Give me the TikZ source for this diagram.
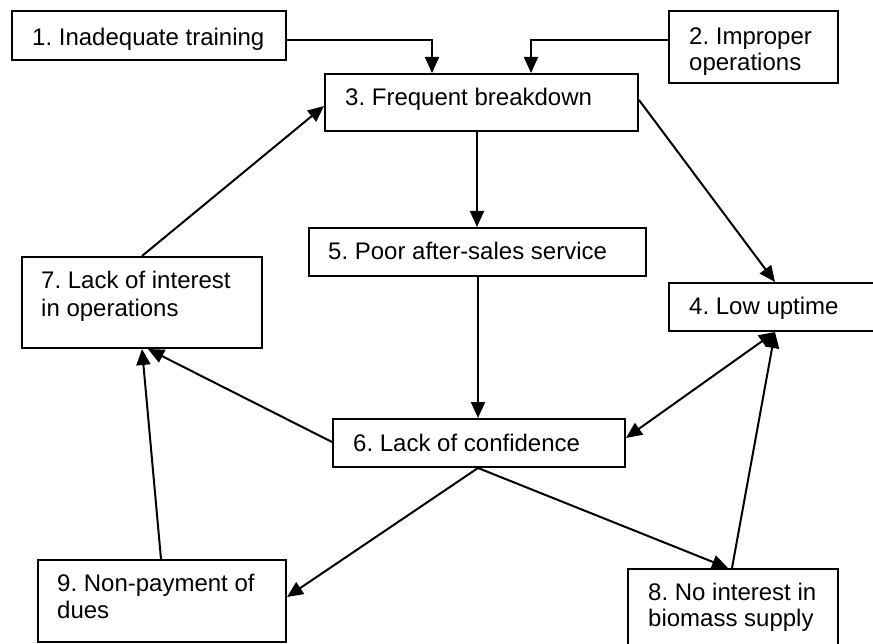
\documentclass[tikz,border=0pt]{standalone}
\usepackage{fontspec}
\setmainfont{Liberation Sans}
\usetikzlibrary{arrows.meta}
\frenchspacing
\begin{document}
\begin{tikzpicture}[x=1pt,y=-1pt,
  box/.style={draw=black, line width=2pt, fill=white, rectangle, inner sep=0pt, anchor=north west},
  txt/.style={anchor=base west, inner sep=0pt, font=\fontsize{24}{27}\selectfont},
  tip/.tip={Triangle[length=16pt,width=14pt]},
  arr/.style={line width=2pt, -tip},
  arrtwo/.style={line width=2pt, tip-tip}]
\path[use as bounding box, clip] (0,0) rectangle (873,644);
\fill[white] (0,0) rectangle (873,644);
% boxes
\node[box, minimum width=274pt, minimum height=49pt] (b1) at (11,10) {};
\node[box, minimum width=169pt, minimum height=72pt] (b2) at (668,10) {};
\node[box, minimum width=313pt, minimum height=57pt] (b3) at (324,73) {};
\node[box, minimum width=337pt, minimum height=48pt] (b5) at (308,227) {};
\node[box, minimum width=210pt, minimum height=48pt] (b4) at (668,282) {};
\node[box, minimum width=240pt, minimum height=91pt] (b7) at (21,256) {};
\node[box, minimum width=292pt, minimum height=48pt] (b6) at (332,418) {};
\node[box, minimum width=248pt, minimum height=82pt] (b9) at (37,559) {};
\node[box, minimum width=210pt, minimum height=82pt] (b8) at (627,568) {};
% texts
\node[txt] (t1) at (32,46) {1. Inadequate training};
\node[txt] (t2a) at (689,45) {2. Improper};
\node[txt] (t2b) at (689,71) {operations};
\node[txt] (t3) at (345,106) {3. Frequent breakdown};
\node[txt] (t5) at (328,260) {5. Poor after-sales service};
\node[txt] (t4) at (689,315) {4. Low uptime};
\node[txt] (t7a) at (41,289) {7. Lack of interest};
\node[txt] (t7b) at (41,317) {in operations};
\node[txt] (t6) at (353,451) {6. Lack of confidence};
\node[txt] (t9a) at (57,591) {9. Non-payment of};
\node[txt] (t9b) at (57,618) {dues};
\node[txt] (t8a) at (648,600) {8. No interest in};
\node[txt] (t8b) at (648,626) {biomass supply};
% connectors
\draw[arr] (b1.east |- 0,40) -| (b3.north -| 432,0);
\draw[arr] (b2.west |- 0,40) -| (b3.north -| 531,0);
\draw[arr] (b3.south -| 477,0) -- (b5.north -| 477,0);
\draw[arr] (b3.east |- 0,100) -- (b4.north -| 775,0);
\draw[arr] (b7.north -| 142,0) -- (b3.west |- 0,106);
\draw[arr] (b5.south -| 478,0) -- (b6.north -| 478,0);
\draw[arr] (b6.west |- 0,442) -- (b7.south -| 148,0);
\draw[arr] (b9.north -| 161,0) -- (b7.south -| 142,0);
\draw[arrtwo] (b6.east |- 0,438) -- (b4.south -| 775,0);
\draw[arr] (b8.north -| 732,0) -- (b4.south -| 775,0);
\draw[arr] (b6.south -| 478,0) -- (b9.east |- 0,597);
\draw[arr] (b6.south -| 478,0) -- (b8.north -| 728,0);
\end{tikzpicture}
\end{document}
